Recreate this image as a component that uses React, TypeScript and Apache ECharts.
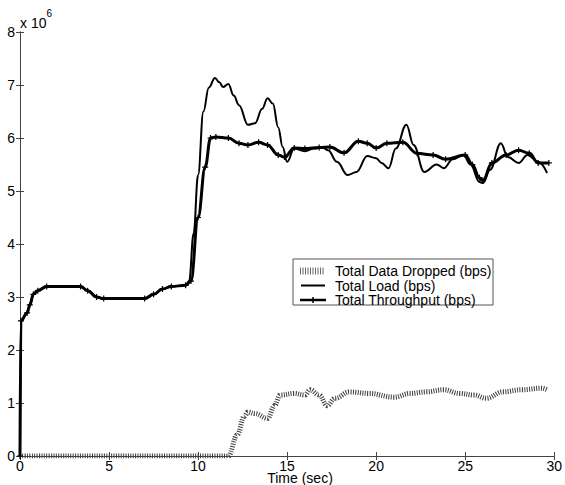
import React, { useEffect, useRef } from "react";
import * as echarts from "echarts";

// Values in units of 10^6 bps
const loadT = [0, 0.05, 0.4, 0.55, 0.75, 1.0, 1.5, 3.4, 3.8, 4.3, 4.7, 7.0, 7.5, 8.0, 8.5, 9.3, 9.5, 9.75, 10.0, 10.3, 10.6, 10.95, 11.2, 11.4, 11.7, 12.0, 12.3, 12.8, 13.2, 13.6, 13.9, 14.2, 14.5, 14.75, 15.0, 15.4, 16.0, 16.5, 17.0, 17.3, 17.8, 18.4, 18.9, 19.5, 20.0, 20.3, 20.7, 21.1, 21.7, 22.1, 22.7, 23.4, 23.8, 24.3, 24.9, 25.3, 25.8, 26.0, 26.4, 27.0, 27.4, 28.0, 28.5, 29.1, 29.6];
const loadV = [0, 2.55, 2.7, 2.85, 3.05, 3.12, 3.2, 3.2, 3.12, 3.0, 2.97, 2.97, 3.05, 3.15, 3.2, 3.22, 3.3, 4.2, 5.3, 6.5, 6.95, 7.13, 7.05, 6.96, 7.02, 6.8, 6.62, 6.25, 6.28, 6.55, 6.75, 6.65, 6.2, 5.83, 5.55, 5.8, 5.75, 5.8, 5.82, 5.77, 5.55, 5.3, 5.36, 5.66, 5.62, 5.53, 5.43, 5.8, 6.25, 5.87, 5.36, 5.5, 5.43, 5.6, 5.68, 5.5, 5.17, 5.15, 5.4, 5.9, 5.64, 5.53, 5.68, 5.55, 5.34];

const thrT = [0, 0.05, 0.4, 0.55, 0.75, 1.0, 1.5, 3.4, 3.8, 4.3, 4.7, 7.0, 7.5, 8.0, 8.5, 9.3, 9.6, 10.0, 10.4, 10.7, 11.0, 11.7, 12.3, 12.8, 13.4, 13.9, 14.5, 14.85, 15.4, 16.0, 16.8, 17.4, 18.2, 19.0, 19.5, 20.0, 20.6, 21.5, 22.3, 23.2, 23.9, 25.0, 25.4, 25.8, 26.0, 26.5, 27.3, 28.0, 28.6, 29.1, 29.7];
const thrV = [0, 2.55, 2.7, 2.85, 3.05, 3.12, 3.2, 3.2, 3.12, 3.0, 2.97, 2.97, 3.05, 3.15, 3.2, 3.22, 3.3, 4.5, 5.45, 6.0, 6.02, 6.0, 5.9, 5.87, 5.92, 5.87, 5.68, 5.64, 5.81, 5.8, 5.82, 5.83, 5.72, 5.94, 5.9, 5.81, 5.9, 5.92, 5.71, 5.68, 5.6, 5.68, 5.5, 5.25, 5.2, 5.53, 5.68, 5.77, 5.71, 5.53, 5.53];

const dropT = [0, 11.7, 12.2, 12.6, 12.8, 13.2, 13.9, 14.3, 14.6, 15.4, 16.0, 16.3, 16.8, 17.25, 17.7, 18.5, 19.6, 21.0, 21.9, 22.8, 23.8, 24.7, 25.5, 26.2, 27.1, 28.2, 29.3, 29.6];
const dropV = [0, 0, 0.4, 0.75, 0.83, 0.8, 0.71, 0.95, 1.15, 1.18, 1.15, 1.25, 1.15, 0.95, 1.09, 1.21, 1.18, 1.11, 1.18, 1.21, 1.25, 1.18, 1.15, 1.09, 1.21, 1.25, 1.28, 1.25];

const xTicks = { min: 0, max: 30, interval: 5 };
const yTicks = { min: 0, max: 8, interval: 1 };
const seriesNames = ["Total Data Dropped (bps)", "Total Load (bps)", "Total Throughput (bps)"];

const FONT = "'Liberation Sans', Arial, Helvetica, sans-serif";
const pair = (t: number[], v: number[]) => t.map((x, i) => [x, v[i]]);

export default function App() {
  const ref = useRef<HTMLDivElement>(null);
  useEffect(() => {
    if (!ref.current) return;
    const chart = echarts.init(ref.current, undefined, { renderer: "svg" });
    const axisLine = { show: true, lineStyle: { color: "#444", width: 1 } };
    const axisTick = { show: true, inside: true, length: 4, lineStyle: { color: "#444" } };
    const legendX = 293;
    const legendY = 259;
    const rows = [271, 285.5, 300];
    chart.setOption({
      animation: false,
      backgroundColor: "#fff",
      grid: { left: 20, top: 32, width: 539, height: 424, containLabel: false },
      xAxis: [
        {
          type: "value", ...xTicks, position: "bottom", axisLine, axisTick,
          splitLine: { show: false },
          axisLabel: { fontSize: 14, lineHeight: 12, color: "#000", margin: 4, fontFamily: FONT },
        },
        {
          type: "value", ...xTicks, position: "top", axisLine, axisTick,
          splitLine: { show: false }, axisLabel: { show: false },
        },
      ],
      yAxis: [
        {
          type: "value", ...yTicks, position: "left", axisLine, axisTick,
          splitLine: { show: false },
          axisLabel: { fontSize: 14, color: "#000", margin: 5, fontFamily: FONT },
        },
        {
          type: "value", ...yTicks, position: "right", axisLine, axisTick,
          splitLine: { show: false }, axisLabel: { show: false },
        },
      ],
      series: [
        {
          name: seriesNames[0], type: "line", data: pair(dropT, dropV),
          symbol: "none", smooth: 0.4, smoothMonotone: "x",
          lineStyle: { color: "#3a3a3a", width: 5, type: [1, 1.4] },
        },
        {
          name: seriesNames[1], type: "line", data: pair(loadT, loadV),
          symbol: "none", smooth: 0.4, smoothMonotone: "x",
          lineStyle: { color: "#000", width: 2 },
        },
        {
          name: seriesNames[2], type: "line", data: pair(thrT, thrV),
          symbol: "path://M4,0H6V4H10V6H6V10H4V6H0V4H4Z", symbolSize: 6, showSymbol: true,
          itemStyle: { color: "#000" },
          smooth: 0.4, smoothMonotone: "x",
          lineStyle: { color: "#000", width: 3 },
        },
      ],
      graphic: [
        {
          type: "text", left: 20, top: 8, z: 10,
          style: {
            text: "{a|x 10}{b|6}",
            rich: {
              a: { fontSize: 14, fontFamily: FONT, fill: "#000", padding: [8, 0, 0, 0] },
              b: { fontSize: 10, fontFamily: FONT, fill: "#000", verticalAlign: "top" },
            },
          },
        },
        {
          type: "text", x: 300, y: 478, z: 10,
          style: { text: "Time (sec)", fontSize: 14, lineHeight: 11, fontFamily: FONT, fill: "#000", align: "center", verticalAlign: "middle" },
        },
        {
          type: "group", z: 100,
          children: [
            {
              type: "rect", shape: { x: legendX, y: legendY, width: 200, height: 46 },
              style: { fill: "#fff", stroke: "#555", lineWidth: 1 },
            },
            {
              type: "line", shape: { x1: 300, y1: rows[0], x2: 324, y2: rows[0] },
              style: { stroke: "#666", lineWidth: 7, lineDash: [1, 1.5] },
            },
            {
              type: "line", shape: { x1: 301, y1: rows[1], x2: 325, y2: rows[1] },
              style: { stroke: "#000", lineWidth: 2 },
            },
            {
              type: "line", shape: { x1: 300, y1: rows[2], x2: 326, y2: rows[2] },
              style: { stroke: "#000", lineWidth: 2.5 },
            },
            {
              type: "line", shape: { x1: 313, y1: rows[2] - 3, x2: 313, y2: rows[2] + 3 },
              style: { stroke: "#000", lineWidth: 1.5 },
            },
            ...seriesNames.map((n, i) => ({
              type: "text", x: 335, y: rows[i],
              style: { text: n, fontSize: 14, lineHeight: 13, fontFamily: FONT, fill: "#000", verticalAlign: "middle" },
            })),
          ],
        },
      ],
    });
    return () => chart.dispose();
  }, []);
  return <div ref={ref} style={{ position: "fixed", left: 0, top: 0, width: 565, height: 485, background: "#fff" }} />;
}
